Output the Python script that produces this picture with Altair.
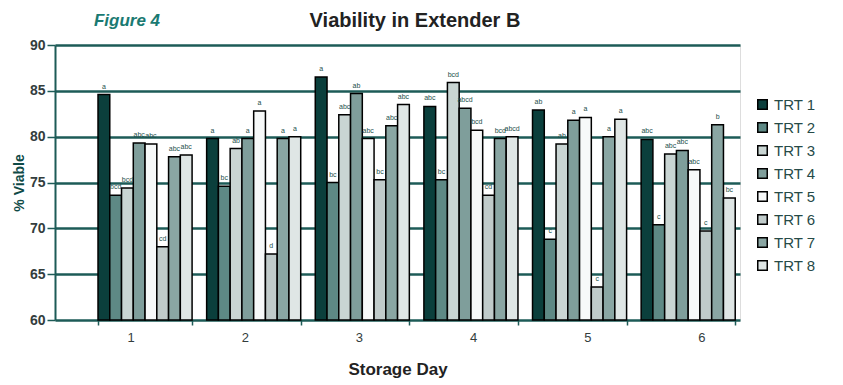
import altair as alt
import pandas as pd

days = ["1", "2", "3", "4", "5", "6"]
treatments = ["TRT 1", "TRT 2", "TRT 3", "TRT 4", "TRT 5", "TRT 6", "TRT 7", "TRT 8"]

trt1 = [84.6, 79.8, 86.5, 83.3, 82.9, 79.7]
trt2 = [73.6, 74.6, 75.0, 75.3, 68.8, 70.4]
trt3 = [74.4, 78.7, 82.4, 85.9, 79.2, 78.1]
trt4 = [79.3, 79.8, 84.7, 83.1, 81.8, 78.5]
trt5 = [79.2, 82.8, 79.8, 80.7, 82.1, 76.4]
trt6 = [68.0, 67.2, 75.3, 73.6, 63.6, 69.7]
trt7 = [77.8, 79.8, 81.2, 79.8, 80.0, 81.3]
trt8 = [78.0, 80.0, 83.5, 80.0, 81.9, 73.3]

lab1 = ["a", "a", "a", "abc", "ab", "abc"]
lab2 = ["bcd", "bc", "bc", "bc", "c", "c"]
lab3 = ["bcd", "ab", "abc", "bcd", "ab", "abc"]
lab4 = ["abc", "a", "ab", "abcd", "a", "abc"]
lab5 = ["abc", "a", "abc", "bcd", "a", "abc"]
lab6 = ["cd", "d", "bc", "cd", "c", "c"]
lab7 = ["abc", "a", "abc", "bcd", "a", "b"]
lab8 = ["abc", "a", "abc", "abcd", "a", "bc"]

colors = ["#0b3f3c", "#5e8985", "#c9d5d3", "#7f9e9b", "#f7f9f9", "#c0cbca", "#8aa6a3", "#dfe6e5"]

series = [trt1, trt2, trt3, trt4, trt5, trt6, trt7, trt8]
letters = [lab1, lab2, lab3, lab4, lab5, lab6, lab7, lab8]
rows = []
for t, vals, labs in zip(treatments, series, letters):
    for d, v, l in zip(days, vals, labs):
        rows.append({"Day": d, "TRT": t, "Viable": v, "Letter": l})
df = pd.DataFrame(rows)

TEAL = "#1d5b57"
DARK = "#333d3d"

xscale = alt.Scale(domain=days, paddingInner=0.134, paddingOuter=0.22, align=0.9)
yscale = alt.Scale(domain=[60, 90], zero=False, nice=False)

base = alt.Chart(df)

bars = base.mark_bar(stroke="black", strokeWidth=1.5).encode(
    x=alt.X("Day:N", scale=xscale, sort=days,
            axis=alt.Axis(title="Storage Day", labels=False, ticks=True, tickBand="extent",
                          tickSize=5, tickColor=TEAL, tickWidth=1.5, domain=False,
                          titleFontSize=17, titleFontWeight="bold", titleColor="#222222",
                          titleFont="Liberation Sans", titlePadding=36)),
    xOffset=alt.XOffset("TRT:N", sort=treatments),
    y=alt.Y("Viable:Q", scale=yscale,
            axis=alt.Axis(title="% Viable", values=[60, 65, 70, 75, 80, 85, 90],
                          grid=True, gridColor=TEAL, gridWidth=2.5,
                          domainColor=TEAL, domainWidth=2, tickColor=TEAL, tickSize=8,
                          tickWidth=1.5, labelFontSize=14, labelFontWeight="bold",
                          labelColor=DARK, labelFont="Liberation Sans", labelPadding=2,
                          titleFontSize=14, titleFontWeight="bold", titleColor="#0f4a46",
                          titleFont="Liberation Sans", titlePadding=3)),
    y2=alt.datum(60),
    color=alt.Color("TRT:N", sort=treatments,
                    scale=alt.Scale(domain=treatments, range=colors),
                    legend=alt.Legend(title=None, orient="none", legendX=700, legendY=52,
                                      symbolType="square", symbolSize=90,
                                      symbolStrokeColor="black", symbolStrokeWidth=1.5,
                                      labelFontSize=15, labelColor="#264a47",
                                      labelFont="Liberation Sans", rowPadding=6,
                                      labelOffset=4)),
)

letter_text = base.mark_text(fontSize=7, color="#1d4f4b", baseline="bottom", dy=-5,
                             font="Liberation Sans").encode(
    x=alt.X("Day:N", scale=xscale, sort=days, axis=None),
    xOffset=alt.XOffset("TRT:N", sort=treatments),
    y=alt.Y("Viable:Q", scale=yscale),
    text="Letter:N",
)

day_df = pd.DataFrame({"Day": days})
day_labels = alt.Chart(day_df).mark_text(fontSize=13, color=DARK, baseline="middle",
                                         dx=19, font="Liberation Sans").encode(
    x=alt.X("Day:N", scale=alt.Scale(domain=days, paddingInner=0, paddingOuter=0),
            sort=days, axis=None),
    y=alt.value(293),
    text="Day:N",
)

fig_label = alt.Chart(pd.DataFrame({"t": ["Figure 4"]})).mark_text(
    fontSize=17, fontStyle="italic", fontWeight="bold", color="#1a7a72",
    font="Liberation Sans", baseline="middle").encode(
    x=alt.value(72), y=alt.value(-24), text="t:N")

title_label = alt.Chart(pd.DataFrame({"t": ["Viability in Extender B"]})).mark_text(
    fontSize=20, fontWeight="bold", color="#222222",
    font="Liberation Sans", baseline="middle").encode(
    x=alt.value(360), y=alt.value(-24), text="t:N")

chart = alt.layer(bars, letter_text, day_labels, fig_label, title_label).resolve_scale(
    x="independent"
).properties(
    width=685, height=275,
    autosize=alt.AutoSizeParams(type="none"),
    padding={"left": 47, "top": 37, "right": 95, "bottom": 63},
).configure_view(stroke=TEAL, strokeWidth=2.5).configure(background="white")

chart.save("out.html", embed_options={"renderer": "svg", "actions": False})
